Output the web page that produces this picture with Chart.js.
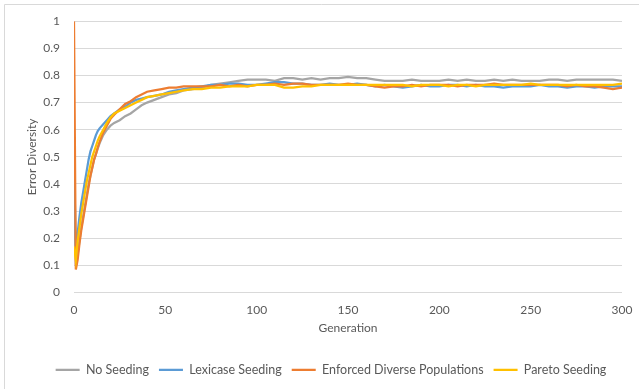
<!DOCTYPE html>
<html>
<head>
<meta charset="utf-8">
<script src="https://cdn.jsdelivr.net/npm/chart.js@4"></script>
<style>
  html, body { margin: 0; padding: 0; background: #fff; }
  #wrap { width: 639px; height: 389px; }
</style>
</head>
<body>
<div id="wrap"><canvas id="diversity_chart" width="639" height="389"></canvas></div>
<script>
// data
var generations = [0,1,2,3,4,5,6,7,8,9,10,11,12,13,14,16,18,20,22,25,28,31,34,37,40,44,48,52,56,60,
  65,70,75,80,85,90,95,100,105,110,115,120,125,130,135,140,145,150,155,160,165,170,175,180,
  185,190,195,200,205,210,215,220,225,230,235,240,245,250,255,260,265,270,275,280,285,290,295,300];

var noSeeding = [0.38,0.10,0.14,0.19,0.24,0.28,0.32,0.36,0.40,0.43,0.46,0.49,0.51,0.53,0.55,0.58,0.60,0.615,0.625,0.635,0.65,0.66,0.675,0.69,0.70,0.71,0.72,0.73,0.735,0.745,
  0.75,0.755,0.765,0.77,0.775,0.78,0.785,0.785,0.785,0.78,0.79,0.79,0.785,0.79,0.785,0.79,0.79,0.795,0.79,0.79,0.785,0.78,0.78,0.78,
  0.785,0.78,0.78,0.78,0.785,0.78,0.785,0.78,0.78,0.785,0.78,0.785,0.78,0.78,0.78,0.785,0.785,0.78,0.785,0.785,0.785,0.785,0.785,0.78];

var lexicaseSeeding = [0.51,0.14,0.22,0.28,0.33,0.37,0.41,0.45,0.49,0.52,0.54,0.56,0.58,0.595,0.605,0.62,0.635,0.65,0.66,0.675,0.685,0.70,0.71,0.715,0.72,0.725,0.73,0.74,0.745,0.75,
  0.755,0.76,0.765,0.765,0.77,0.77,0.765,0.765,0.77,0.775,0.775,0.77,0.77,0.765,0.765,0.77,0.765,0.765,0.77,0.765,0.76,0.765,0.76,0.755,
  0.76,0.765,0.76,0.76,0.765,0.765,0.76,0.765,0.76,0.76,0.755,0.76,0.76,0.76,0.765,0.76,0.76,0.755,0.76,0.76,0.755,0.76,0.76,0.76];

var enforcedDiverse = [1.0,0.085,0.12,0.18,0.23,0.27,0.31,0.35,0.39,0.43,0.46,0.49,0.51,0.535,0.555,0.59,0.615,0.64,0.655,0.675,0.695,0.705,0.72,0.73,0.74,0.745,0.75,0.755,0.755,0.76,
  0.76,0.76,0.76,0.765,0.76,0.765,0.76,0.765,0.765,0.77,0.765,0.77,0.77,0.765,0.765,0.765,0.765,0.77,0.765,0.765,0.76,0.755,0.76,0.76,
  0.765,0.76,0.765,0.765,0.765,0.76,0.765,0.765,0.765,0.77,0.765,0.765,0.765,0.765,0.765,0.765,0.765,0.76,0.765,0.76,0.76,0.755,0.75,0.755];

var paretoSeeding = [0.17,0.12,0.19,0.24,0.29,0.33,0.37,0.41,0.44,0.47,0.50,0.52,0.54,0.56,0.575,0.60,0.625,0.645,0.66,0.67,0.68,0.69,0.70,0.71,0.72,0.725,0.73,0.735,0.74,0.745,
  0.75,0.75,0.755,0.755,0.76,0.76,0.76,0.765,0.765,0.765,0.755,0.755,0.76,0.76,0.765,0.765,0.765,0.765,0.765,0.765,0.765,0.765,0.765,0.765,
  0.76,0.765,0.765,0.765,0.76,0.765,0.765,0.76,0.765,0.765,0.765,0.765,0.765,0.77,0.765,0.765,0.765,0.765,0.765,0.765,0.765,0.765,0.765,0.77];

var seriesNames = ['No Seeding', 'Lexicase Seeding', 'Enforced Diverse Populations', 'Pareto Seeding'];
var seriesColors = ['#A5A5A5', '#5B9BD5', '#ED7D31', '#FFC000'];
var yTickLabels = ['0','0.1','0.2','0.3','0.4','0.5','0.6','0.7','0.8','0.9','1'];
var xTickLabels = ['0','50','100','150','200','250','300'];

function points(values) {
  return values.map((v, i) => ({x: generations[i], y: v}));
}

// light frame round the chart (only top and left show in the crop)
const frame = {
  id: 'frame',
  beforeDraw(chart) {
    const c = chart.ctx;
    c.save();
    c.strokeStyle = '#d9d9d9';
    c.lineWidth = 1;
    c.beginPath();
    c.moveTo(4.5, chart.height);
    c.lineTo(4.5, 4.5);
    c.lineTo(chart.width, 4.5);
    c.stroke();
    c.restore();
  }
};

// the legend sits a bit right of the canvas centre in the original
const legendShift = {
  id: 'legendShift',
  afterLayout(chart) {
    chart.legend.left += 15;
    chart.legend.right += 15;
  }
};

const textColor = '#595959';
Chart.defaults.font.family = 'Lato, "Open Sans", sans-serif';
Chart.defaults.font.size = 12;
Chart.defaults.color = textColor;

const allSeries = [noSeeding, lexicaseSeeding, enforcedDiverse, paretoSeeding];

new Chart(document.getElementById('diversity_chart').getContext('2d'), {
  type: 'line',
  data: {
    datasets: allSeries.map((vals, i) => ({
      label: seriesNames[i],
      data: points(vals),
      borderColor: seriesColors[i],
      backgroundColor: seriesColors[i],
      borderWidth: 2.25,
      pointRadius: 0,
      tension: 0,
      order: 4 - i
    }))
  },
  options: {
    responsive: false,
    animation: false,
    layout: { padding: { left: 10, right: 17, top: 20, bottom: 3 } },
    plugins: {
      tooltip: { enabled: false },
      legend: {
        position: 'bottom',
        labels: {
          usePointStyle: true,
          pointStyle: 'line',
          pointStyleWidth: 24,
          padding: 10,
          color: textColor,
          font: { size: 12.5 },
          sort: (a, b) => a.datasetIndex - b.datasetIndex
        }
      }
    },
    scales: {
      x: {
        type: 'linear',
        min: 0,
        max: 300,
        afterFit: s => { s.height = 61; },
        grid: { display: false },
        border: { display: false },
        ticks: {
          stepSize: 50,
          padding: 2,
          maxRotation: 0,
          callback: (v, i) => xTickLabels[i]
        },
        title: { display: true, text: 'Generation', padding: { top: 0, bottom: 18 } }
      },
      y: {
        min: 0,
        max: 1,
        afterFit: s => { s.width = 64; },
        grid: { color: '#d9d9d9', drawTicks: false },
        border: { display: false },
        ticks: {
          stepSize: 0.1,
          padding: 14,
          callback: (v, i) => yTickLabels[i]
        },
        title: { display: true, text: 'Error Diversity', padding: { top: 15, bottom: 0 } }
      }
    }
  },
  plugins: [frame, legendShift]
});
</script>
</body>
</html>
